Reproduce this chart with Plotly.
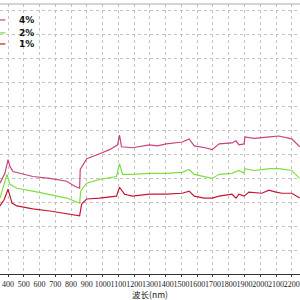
import plotly.graph_objects as go

# wavelength (nm) and relative values for each series
wl_4 = [349, 380, 400, 412, 431, 507, 557, 665, 772, 823, 854, 858, 899, 981, 1044, 1095, 1107, 1120, 1189, 1297, 1347, 1404, 1505, 1549, 1581, 1650, 1695, 1739, 1821, 1846, 1865, 1897, 1903, 1960, 2010, 2060, 2118, 2170, 2200, 2250]
val_4 = [3.79, 4.20, 4.77, 4.49, 4.28, 4.16, 4.07, 3.99, 3.87, 3.66, 3.58, 4.36, 4.81, 5.02, 5.19, 5.39, 5.80, 5.31, 5.27, 5.39, 5.35, 5.43, 5.51, 5.64, 5.35, 5.27, 5.19, 5.43, 5.47, 5.56, 5.39, 5.43, 5.72, 5.66, 5.68, 5.72, 5.76, 5.70, 5.64, 5.31]

wl_2 = [349, 370, 393, 412, 456, 557, 665, 772, 854, 861, 899, 981, 1088, 1107, 1126, 1189, 1297, 1404, 1505, 1549, 1581, 1650, 1695, 1739, 1821, 1865, 1897, 1903, 1960, 2010, 2060, 2118, 2170, 2200, 2250]
val_2 = [3.17, 3.60, 4.16, 3.74, 3.58, 3.46, 3.33, 3.17, 2.96, 3.46, 3.79, 3.95, 4.07, 4.61, 4.16, 4.16, 4.20, 4.20, 4.24, 4.36, 4.16, 4.07, 3.99, 4.16, 4.20, 4.32, 4.20, 4.40, 4.32, 4.36, 4.40, 4.40, 4.34, 4.32, 3.99]

wl_1 = [349, 375, 400, 425, 456, 557, 665, 772, 854, 867, 899, 981, 1088, 1107, 1139, 1189, 1297, 1404, 1505, 1549, 1581, 1644, 1695, 1739, 1821, 1846, 1865, 1897, 1928, 2010, 2055, 2100, 2137, 2200, 2250]
val_1 = [2.84, 3.10, 3.54, 2.96, 2.84, 2.72, 2.63, 2.51, 2.43, 2.92, 3.13, 3.17, 3.25, 3.62, 3.33, 3.25, 3.33, 3.33, 3.37, 3.46, 3.25, 3.17, 3.17, 3.25, 3.33, 3.17, 3.33, 3.25, 3.42, 3.37, 3.50, 3.42, 3.37, 3.37, 3.17]

series_names = ["4%", "2%", "1%"]
series_colors = ["#cc4080", "#80dd40", "#c81535"]

tick_vals = list(range(400, 2300, 100))
tick_text = [str(v) for v in tick_vals]

fig = go.Figure()
for wl, val, name, col in zip([wl_4, wl_2, wl_1], [val_4, val_2, val_1], series_names, series_colors):
    fig.add_trace(go.Scatter(x=wl, y=val, mode="lines", name=name,
                             line=dict(color=col, width=1.2)))

# compact legend (top-left, partly cut off like the reference)
legend_y = [0.941, 0.893, 0.852]
shapes = [dict(type="line", xref="paper", yref="paper", x0=0, x1=1, y0=1, y1=1,
               line=dict(color="#aaaaaa", width=1))]
annotations = []
for name, col, ly in zip(series_names, series_colors, legend_y):
    shapes.append(dict(type="line", xref="paper", yref="paper", x0=-0.01, x1=0.018,
                       y0=ly, y1=ly, line=dict(color=col, width=1.2)))
    annotations.append(dict(text=name, xref="paper", yref="paper", x=0.057, y=ly,
                            xanchor="left", yanchor="middle", showarrow=False,
                            font=dict(size=9, family="DejaVu Sans", weight="bold", color="#111")))

fig.update_layout(
    width=300, height=300,
    margin=dict(l=0, r=0, t=4, b=26, autoexpand=False),
    paper_bgcolor="white", plot_bgcolor="white",
    font=dict(family="DejaVu Sans", color="#222"),
    showlegend=False,
    xaxis=dict(range=[349, 2252], tickmode="array", tickvals=tick_vals, ticktext=tick_text,
               tickangle=0, ticklabeloverflow="allow",
               tickfont=dict(size=8, family="Liberation Serif", color="#222"),
               showgrid=True, gridcolor="#c4c4c4", griddash="dot", gridwidth=1,
               showline=True, linecolor="#333", linewidth=1,
               ticks="outside", ticklen=2, tickcolor="#333",
               title=dict(text="波长(nm)", font=dict(size=8.5, family="Noto Sans CJK SC", color="#222"), standoff=4),
               zeroline=False),
    yaxis=dict(range=[0, 11.27], dtick=1, showticklabels=False,
               showgrid=True, gridcolor="#c4c4c4", griddash="dot", gridwidth=1,
               showline=False, zeroline=False),
    shapes=shapes,
    annotations=annotations,
)

fig.write_html("out.html")
